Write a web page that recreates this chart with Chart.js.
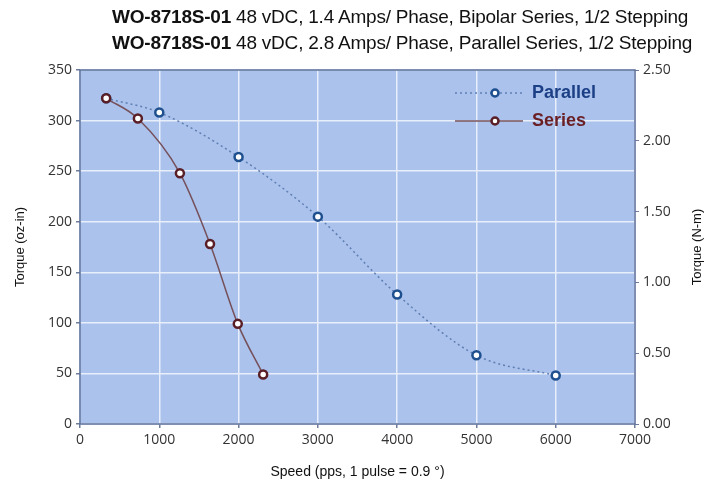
<!DOCTYPE html>
<html>
<head>
<meta charset="utf-8">
<script src="https://cdn.jsdelivr.net/npm/chart.js@4.4.0/dist/chart.umd.min.js"></script>
<style>
  body { margin: 0; background: #fff; }
  #wrap { position: relative; width: 709px; height: 485px; }
  .ttl { position: absolute; left: 112px; font-family: "Liberation Sans", Arial, sans-serif; font-size: 19px; color: #111; white-space: nowrap; letter-spacing: -0.22px; }
  .ttl b { font-weight: bold; }
</style>
</head>
<body>
<div id="wrap">
  <canvas id="torqueChart" width="709" height="485"></canvas>
  <div class="ttl" style="top:6px"><b>WO-8718S-01</b> 48 vDC, 1.4 Amps/ Phase, Bipolar Series, 1/2 Stepping</div>
  <div class="ttl" style="top:32px"><b>WO-8718S-01</b> 48 vDC, 2.8 Amps/ Phase, Parallel Series, 1/2 Stepping</div>
</div>
<script>
var parallelSpeed = [330, 1000, 2000, 3000, 4000, 5000, 6000];
var parallelTorque = [322, 308, 264, 205, 128, 68, 48];
var seriesSpeed = [330, 730, 1260, 1640, 1990, 2310];
var seriesTorque = [322, 302, 248, 178, 99, 49];
var leftTitle = 'Torque (oz-in)';
var rightTitle = 'Torque (N-m)';

function toPoints(xs, ys) {
    return xs.map(function (x, i) { return { x: x, y: ys[i] }; });
}

// plot background, border, vertical axis titles and legend inside the plot
var plotDecor = {
    id: 'plotDecor',
    beforeDraw: function (chart) {
        var a = chart.chartArea, c = chart.ctx;
        c.save();
        c.fillStyle = '#aac2ec';
        c.fillRect(a.left, a.top, a.right - a.left, a.bottom - a.top);
        c.restore();
    },
    afterDraw: function (chart) {
        var a = chart.chartArea, c = chart.ctx;
        c.save();
        c.strokeStyle = '#5b6f99';
        c.lineWidth = 1.5;
        c.strokeRect(a.left, a.top, a.right - a.left, a.bottom - a.top);

        // both side titles read bottom-to-top
        var midY = (a.top + a.bottom) / 2;
        c.font = '13px "Liberation Sans", Arial, sans-serif';
        c.fillStyle = '#111';
        c.textAlign = 'center';
        c.textBaseline = 'middle';
        [[20, leftTitle], [697, rightTitle]].forEach(function (t) {
            c.save();
            c.translate(t[0], midY);
            c.rotate(-Math.PI / 2);
            c.fillText(t[1], 0, 0);
            c.restore();
        });

        var items = [
            { ds: chart.data.datasets[0], y: a.top + 23, color: '#1c3f86' },
            { ds: chart.data.datasets[1], y: a.top + 51, color: '#6a1f24' }
        ];
        c.textAlign = 'left';
        items.forEach(function (it) {
            c.beginPath();
            c.strokeStyle = it.ds.borderColor;
            c.lineWidth = it.ds.borderWidth;
            c.setLineDash(it.ds.borderDash || []);
            c.moveTo(a.left + 375, it.y);
            c.lineTo(a.left + 443, it.y);
            c.stroke();
            c.setLineDash([]);
            c.beginPath();
            c.arc(a.left + 415, it.y, 3.5, 0, Math.PI * 2);
            c.fillStyle = '#fff';
            c.fill();
            c.lineWidth = 2.5;
            c.strokeStyle = it.ds.pointBorderColor;
            c.stroke();
            c.font = 'bold 18px "Liberation Sans", Arial, sans-serif';
            c.fillStyle = it.color;
            c.fillText(it.ds.label, a.left + 452, it.y);
        });
        c.restore();
    }
};

var tickFont = { family: '"Open Sans", "DejaVu Sans", sans-serif', size: 14 };

var ctx = document.getElementById('torqueChart').getContext('2d');
var torqueChart = new Chart(ctx, {
    type: 'scatter',
    data: {
        datasets: [{
            label: 'Parallel',
            data: toPoints(parallelSpeed, parallelTorque),
            showLine: true,
            order: 1,
            cubicInterpolationMode: 'monotone',
            borderColor: '#5f7fb3',
            borderWidth: 1.5,
            borderDash: [2, 3],
            pointRadius: 4,
            pointBorderWidth: 2.5,
            pointBackgroundColor: '#ffffff',
            pointBorderColor: '#1e4f8e',
            yAxisID: 'y'
        }, {
            label: 'Series',
            data: toPoints(seriesSpeed, seriesTorque),
            showLine: true,
            order: 0,
            cubicInterpolationMode: 'monotone',
            borderColor: '#76505a',
            borderWidth: 1.5,
            pointRadius: 4,
            pointBorderWidth: 2.5,
            pointBackgroundColor: '#ffffff',
            pointBorderColor: '#5a1e26',
            yAxisID: 'y'
        }]
    },
    options: {
        responsive: false,
        animation: false,
        layout: { padding: { top: 70, left: 0, right: 0, bottom: 0 } },
        plugins: {
            legend: { display: false },
            tooltip: { enabled: false }
        },
        scales: {
            x: {
                type: 'linear',
                min: 0, max: 7000,
                ticks: { stepSize: 1000, color: '#333', font: tickFont, padding: 4,
                         callback: function (v) { return String(v); } },
                grid: { color: '#e8eefa', lineWidth: 1.5, tickLength: 4, tickColor: '#6d7c9c' },
                border: { display: false },
                title: { display: true, text: 'Speed (pps, 1 pulse = 0.9 °)', color: '#111',
                         font: { family: '"Liberation Sans", Arial, sans-serif', size: 14 }, padding: { top: 2 } },
                afterFit: function (s) { s.height = 61; }
            },
            y: {
                position: 'left',
                min: 0, max: 350,
                ticks: { stepSize: 50, color: '#333', font: tickFont, padding: 4 },
                grid: { color: '#e8eefa', lineWidth: 1.5, tickLength: 4, tickColor: '#6d7c9c' },
                border: { display: false },
                afterFit: function (s) { s.width = 80; }
            },
            y2: {
                position: 'right',
                min: 0, max: 2.5,
                ticks: { stepSize: 0.5, color: '#333', font: tickFont, padding: 4,
                         callback: function (v) { return v.toFixed(2); } },
                grid: { drawOnChartArea: false, tickLength: 4, tickColor: '#6d7c9c' },
                border: { display: false },
                afterFit: function (s) { s.width = 74; }
            }
        }
    },
    plugins: [plotDecor]
});
</script>
</body>
</html>
